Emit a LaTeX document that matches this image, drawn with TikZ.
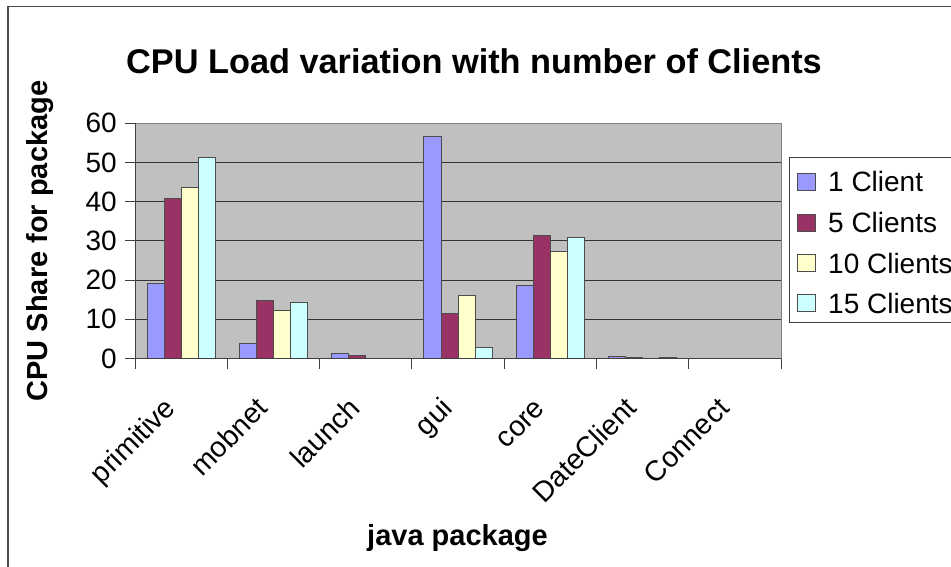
\documentclass[tikz,border=0pt]{standalone}
\usepackage{fontspec}
\setmainfont{Liberation Sans}
\begin{document}
\begin{tikzpicture}[x=1pt,y=-1pt,
  lbl/.style={inner sep=0pt,font=\fontsize{28}{32}\selectfont},
  cat lbl/.style={inner sep=0pt,font=\fontsize{28.5}{33}\selectfont,rotate=45,anchor=base east},
  bold lbl/.style={inner sep=0pt,font=\fontsize{29}{33}\selectfont\bfseries},
  grid line/.style={draw=black!80,line width=0.9pt},
  axis line/.style={draw=black!75,line width=1pt},
  bar/.style={draw=black!70,line width=0.8pt},
  barA/.style={bar,fill=serA},
  barB/.style={bar,fill=serB},
  barC/.style={bar,fill=serC},
  barD/.style={bar,fill=serD}]
\definecolor{serA}{HTML}{9999FF}
\definecolor{serB}{HTML}{993366}
\definecolor{serC}{HTML}{FFFFCC}
\definecolor{serD}{HTML}{CCFFFF}
\definecolor{plotbg}{HTML}{C0C0C0}
\clip (0,0) rectangle (951,567);
\fill[white] (0,0) rectangle (951,567);
% outer chart frame
\draw[black!70,line width=1.4pt] (8,570) -- (8,6.7) -- (955,6.7);
% title
\node[inner sep=0pt,font=\fontsize{34.3}{38}\selectfont\bfseries] (title) at (474,61) {CPU Load variation with number of Clients};
% plot area
\fill[plotbg] (135,123.3) rectangle (781,358.5);
\foreach \v in {10,20,30,40,50}
  \draw[grid line] (135,358.5-\v*3.92) -- (781,358.5-\v*3.92);
\draw[draw=black!50,line width=1pt] (135,123.3) -- (781,123.3) -- (781,358.5);
% bars and category labels
\foreach \name/\a/\b/\c/\d [count=\i from 0] in
  {primitive/19.2/40.9/43.7/51.3, mobnet/3.9/14.7/12.3/14.2,
   launch/1.3/0.8/0.1/0.1, gui/56.6/11.4/16.1/2.9,
   core/18.6/31.3/27.4/30.9, DateClient/0.6/0.3/0.1/0.3,
   Connect/0.1/0.1/0/0}{
  \pgfmathsetmacro\cx{135+(\i+0.5)*92.29}
  \draw[barA] (\cx-34.2,358.5) rectangle (\cx-17.1,358.5-\a*3.92);
  \draw[barB] (\cx-17.1,358.5) rectangle (\cx,358.5-\b*3.92);
  \draw[barC] (\cx,358.5) rectangle (\cx+17.1,358.5-\c*3.92);
  \draw[barD] (\cx+17.1,358.5) rectangle (\cx+34.2,358.5-\d*3.92);
  \node[cat lbl] (cat\i) at (\cx-4,410) {\name};
}
% axes and ticks
\draw[axis line] (135,123.3) -- (135,358.5) -- (781,358.5);
\foreach \v in {0,10,...,60}{
  \draw[axis line] (125,358.5-\v*3.92) -- (135,358.5-\v*3.92);
  \node[lbl,anchor=east] (ytick\v) at (117,358.5-\v*3.92) {\v};
}
\foreach \i in {0,...,7}
  \draw[axis line] (135+\i*92.29,358.5) -- (135+\i*92.29,368.5);
% axis titles
\node[bold lbl,rotate=90] (ytitle) at (40,241) {CPU Share for package};
\node[bold lbl] (xtitle) at (457.5,538) {java package};
% legend
\draw[black!75,line width=1pt] (960,158) -- (789,158) -- (789,322) -- (960,322);
\foreach \s/\t/\y in {A/1 Client/181.7, B/5 Clients/222.7, C/10 Clients/263.3, D/15 Clients/303.3}{
  \draw[bar,fill=ser\s] (797,\y-8.5) rectangle (815,\y+8.5);
  \node[lbl,anchor=west] (leg\s) at (828,\y) {\t};
}
\end{tikzpicture}
\end{document}
